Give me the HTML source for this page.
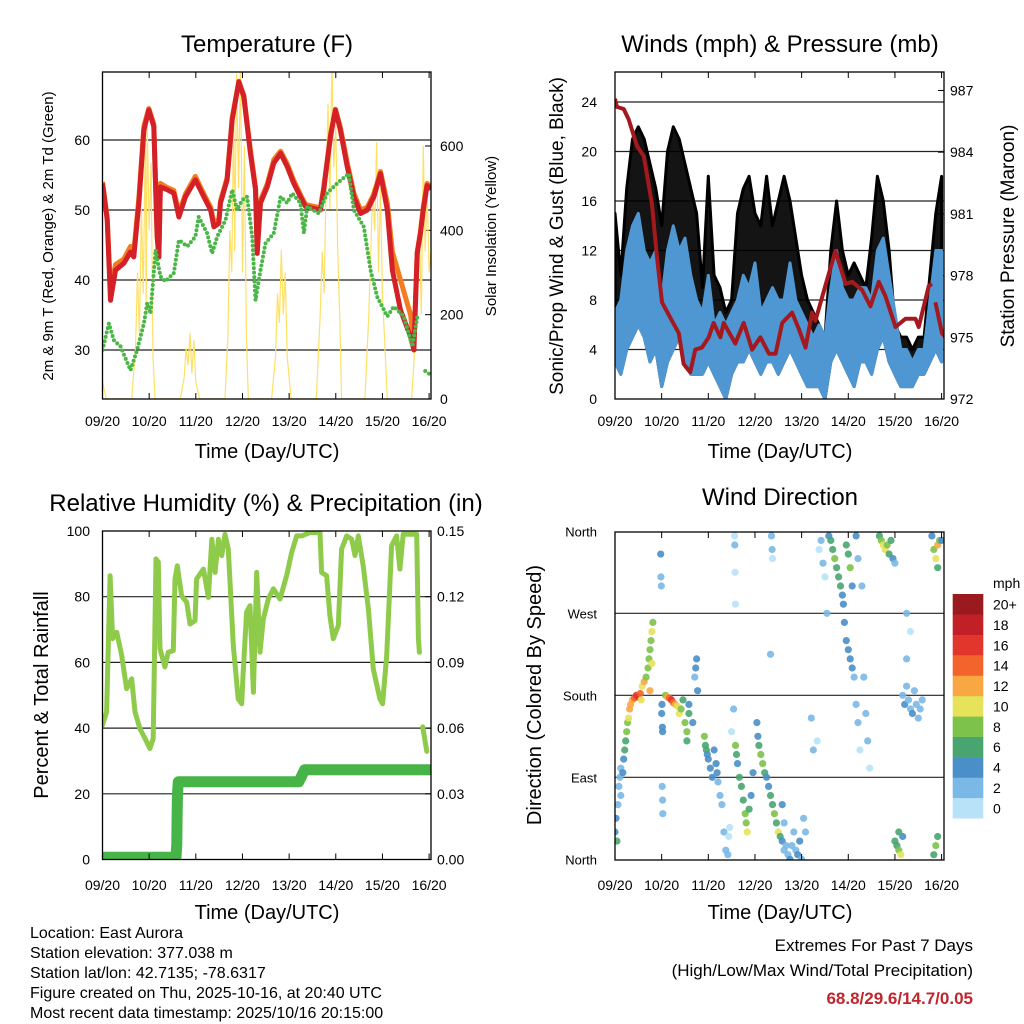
<!DOCTYPE html>
<html><head><meta charset="utf-8"><style>
html,body{margin:0;padding:0;background:#fff;}
svg{display:block;font-family:"Liberation Sans",Arial,sans-serif;}
</style></head><body>
<svg id="chart" width="1024" height="1024" viewBox="0 0 1024 1024" xmlns="http://www.w3.org/2000/svg">
<defs>
<clipPath id="cT"><rect x="102.5" y="72" width="328.5" height="327"/></clipPath>
<clipPath id="cW"><rect x="615" y="72" width="329" height="327"/></clipPath>
<clipPath id="cR"><rect x="102.5" y="531" width="328.5" height="328.5"/></clipPath>
<clipPath id="cD"><rect x="615" y="532" width="329" height="328"/></clipPath>
</defs>
<text x="267" y="52" font-size="24" text-anchor="middle">Temperature (F)</text>
<text x="780" y="52" font-size="24" text-anchor="middle">Winds (mph) &amp; Pressure (mb)</text>
<text x="266" y="511" font-size="24" text-anchor="middle">Relative Humidity (%) &amp; Precipitation (in)</text>
<text x="780" y="505" font-size="24" text-anchor="middle">Wind Direction</text>
<text x="267" y="458" font-size="20" text-anchor="middle">Time (Day/UTC)</text>
<text x="780" y="458" font-size="20" text-anchor="middle">Time (Day/UTC)</text>
<text x="267" y="919" font-size="20" text-anchor="middle">Time (Day/UTC)</text>
<text x="780" y="919" font-size="20" text-anchor="middle">Time (Day/UTC)</text>
<text transform="translate(53,236) rotate(-90)" font-size="15" text-anchor="middle">2m &amp; 9m T (Red, Orange) &amp; 2m Td (Green)</text>
<text transform="translate(496,236) rotate(-90)" font-size="15" text-anchor="middle">Solar Insolation (Yellow)</text>
<text transform="translate(563,236) rotate(-90)" font-size="19" text-anchor="middle">Sonic/Prop Wind &amp; Gust (Blue, Black)</text>
<text transform="translate(1014,236) rotate(-90)" font-size="19" text-anchor="middle">Station Pressure (Maroon)</text>
<text transform="translate(48,695) rotate(-90)" font-size="20" text-anchor="middle">Percent &amp; Total Rainfall</text>
<text transform="translate(541,695) rotate(-90)" font-size="20" text-anchor="middle">Direction (Colored By Speed)</text>
<g font-size="16">
<text x="30" y="938">Location: East Aurora</text>
<text x="30" y="958">Station elevation: 377.038 m</text>
<text x="30" y="978">Station lat/lon: 42.7135; -78.6317</text>
<text x="30" y="998">Figure created on Thu, 2025-10-16, at 20:40 UTC</text>
<text x="30" y="1018">Most recent data timestamp: 2025/10/16 20:15:00</text>
</g>
<g font-size="17" text-anchor="end">
<text x="973" y="951">Extremes For Past 7 Days</text>
<text x="973" y="976">(High/Low/Max Wind/Total Precipitation)</text>
<text x="973" y="1004" fill="#c0262d" font-weight="bold">68.8/29.6/14.7/0.05</text>
</g>
</svg>
<script>
// ---- shared ----
const dayTicks=[0,24,48,72,96,120,144,168];
const dayLabels=['09/20','10/20','11/20','12/20','13/20','14/20','15/20','16/20'];
// ---- temperature ----
const tempT=[0,2.4,4.1,6.7,11,14.4,16.1,18.7,21.3,23.8,26.4,28.1,29,29.8,33.3,36.7,39.3,42.7,47.8,52.1,55.6,57.3,59.8,60.7,64.1,66.7,70.1,72.7,76.1,78.7,79.6,81.3,84.7,88.1,91.6,95,98.4,101.8,104.4,112.1,113.8,117.3,119.8,122.4,125.9,129.3,132.7,136.2,139.6,143,146.5,149.1,153.3,158.5,160.2,161.9,163.6,165,167,169];
const tempRed=[53.8,48.6,37.1,41.4,42.4,44,43.3,51,61.4,64.3,61.9,46.2,43.3,53.3,52.9,52.4,49,51.9,54.3,51.9,50,47.6,48.1,51,54.3,62.9,68.3,66.2,58.1,52.9,43.8,51,53.3,56.7,58.1,56.2,53.8,51.9,50.5,50,52.9,60.5,64.3,61.4,56.2,51.9,49.5,50,51.9,55.2,50,41.4,35.7,31.9,30,43.8,46.7,50,53.5,53];
const tempOrange=[54,49,38.5,42.2,43,44.8,44,51.8,62,64.5,62.3,47,44.5,53.8,53.2,52.8,49.6,52.3,54.8,52.3,50.4,48.3,48.6,51.3,54.6,63.2,68.4,66.4,58.6,53.3,45,51.4,53.7,57.2,58.4,56.6,54.2,52.2,50.8,50.3,53.2,60.8,64.4,61.8,56.8,52.4,50,50.4,52.3,55.5,51,44,40,35,31,44,47,50.5,53.8,53.2];
const dewT=[0,3.3,5.8,9.3,14.4,17.8,21.3,23,24.7,27.3,29.8,32.4,36.7,39.3,43.6,47.8,49.5,53.8,56.4,59,63.3,66.7,69.2,71.8,74.4,77,78.7,81.3,83.8,88.1,91.6,95,97.6,101.8,103.6,105.3,111.3,115.5,120.7,126.7,129.3,134.4,137.9,141.3,146.5,149.9,155,159.4,162,163,166,168.5];
const dewVal=[30,33.8,31.4,30.5,27.1,30,33.8,36.7,35.2,44.3,40.5,39.8,41,45.7,44.8,46.2,49,46.7,43.8,46.2,48.6,52.9,50,51.4,51.9,46.2,37.1,41.4,45.2,46.7,51.9,51,52.4,51,46.7,50.5,49.5,52.4,53.8,55.2,50,47.6,41.4,37.6,34.8,36.2,34.8,30.5,34.8,null,27,26.5];
const solarT=[0,1,2,15,17,18,19,20,21,22,22.5,23,24,25,26,27,40,42,43,44,45,46,47,48,50,63,64.5,65.5,66.5,67.5,68,69,70,71,72,73,74,75,87,89,90,91,92,93,94,95,97,110,112,113,114,115,116,117,118,119,120,121,122,123,135,137,138,139,140,141,142,143,144,145,146.5,159,161,162,163,164,165,166,167,168,170];
const solarVal=[40,20,0,0,120,300,150,450,250,620,200,655,400,560,100,0,0,50,120,80,157,60,140,40,0,0,150,400,300,700,350,770,500,800,300,600,150,0,0,100,250,180,353,200,300,100,0,0,200,350,250,500,700,450,800,550,650,350,200,0,0,200,350,500,400,609,300,500,250,150,0,0,150,300,420,200,600,350,500,300,400];
const tempTicks=[30,40,50,60];
const solarTicks=[0,200,400,600];
// ---- winds ----
const windT=[0,3,6,9,12,15,18,21,24,27,30,33,36,39,42,45,48,51,54,57,60,63,66,69,72,75,78,81,84,87,90,93,96,99,102,105,108,111,114,117,120,123,126,129,132,135,138,141,144,147,150,153,156,159,162,165,168];
const windLo=[3,2,4,5,6,5,3,4,1,3,4,5,3,2,2,2,3,2,1,0,2,3,3,4,3,2,3,3,2,3,4,3,2,1,1,1,0,3,4,3,2,1,3,3,2,4,5,3,2,1,1,1,2,2,3,4,3];
const windHi=[7,8,12,14,15,12,11,12,8,12,14,12,13,10,8,7,10,6,7,6,7,8,10,9,11,7,8,9,8,8,11,8,7,6,5,6,5,9,12,9,8,8,9,9,8,12,13,10,7,4,4,3,4,4,8,12,12];
const gustHi=[15,10,17,21,22,21,19,17,14,20,22,21,19,17,15,9,18,10,9,7,8,15,17,18,15,14,18,14,16,18,16,13,10,8,7,6,5,12,16,12,10,11,10,9,13,18,16,12,6,5,5,4,5,5,10,15,18];
const presT=[0,1,4.5,7,11.3,14.8,19,21.6,24.2,29.3,32.8,35.3,38.7,41.3,44.7,48.2,50.7,54.2,55.9,61.9,66.2,70.5,74.8,79.2,82.6,86,91.1,94.6,98,101.4,103.1,108.2,113.4,118.6,122,127.1,131.4,135.7,139.1,144.3,149.4,154.6,156.2,161.4,163,164,164.8,168.2,170];
const presVal=[986.6,986.2,986.1,985.6,984.3,983.8,981.5,978.9,976.7,975.8,975.2,973.7,973.3,974.4,974.5,975,975.7,975,975.7,974.7,975.7,974.4,975,974.2,974.2,975.7,976.2,975.4,974.5,976.2,975.8,977.5,979.2,977.6,977.7,977.3,976.5,977.7,977,975.5,975.9,975.9,975.5,977.5,977.6,null,976.7,975.2,975];
const windTicks=[0,4,8,12,16,20,24];
const presTicks=[972,975,978,981,984,987];
// ---- humidity ----
const rhT=[0,2.1,3.9,5.2,7.3,9.9,12.4,15,16.7,19.3,21.9,24.4,26.1,27.5,28.7,29.6,32.1,33.8,36.4,37.3,38.5,40.7,43.3,45,47.6,48.4,51.9,54.5,56.2,57.9,59.6,61.3,63,64.7,67.3,69.8,71.6,72.4,74.1,75.9,77.6,79.3,81,82.7,85.3,87.9,91.3,94.7,97.3,99.9,102.5,106.7,111.9,112.7,115.3,117,118.7,121.3,123,125.6,128.2,129.9,131.6,134.1,136.8,139.3,142.7,144.1,146.2,148.7,151.3,153,154.7,161.6,162.5,163,164,164.7,166.8];
const rhVal=[40.9,44.9,86.4,67.2,69.2,62.1,52,55,44.9,39.8,36.8,33.8,36.8,91.5,90.5,64.1,58.6,63.1,63.6,85.4,89.4,80.3,78.3,71.7,72.7,85.4,88.4,79.8,97.5,87.4,97.5,92.5,99,94.5,65.1,48.9,47.4,57,75.3,77.3,50.9,87.4,63.1,73.2,79.3,82.4,79.3,86.4,93.5,98.5,98.5,99.5,99.5,87.4,86.4,74.2,67.2,71.2,94.5,98.5,97.5,92.5,98.5,89.4,76.2,58,48.9,47.4,62.1,95.5,98.5,88.4,99,99,67.2,63.1,null,40.4,32.9];
const precT=[0,37.8,38.2,38.4,38.6,38.8,39,101,104,168];
const precVal=[0.001,0.001,0.007,0.02,0.03,0.033,0.0355,0.0355,0.041,0.041];
const rhTicks=[0,20,40,60,80,100];
const precTicks=['0.00','0.03','0.06','0.09','0.12','0.15'];
// ---- wind direction ----
const dirT=[0,0.5,1,1.5,2,2.5,3,3,4,4.5,5,5.5,6,6.5,7,7.5,8,9,10,11,12,13,13.5,14,15,16,17,17.5,18,18.5,19,19.5,19,18,23.5,23.6,23.8,24,24.2,24.4,24.5,24.3,24.5,24.6,26,27,28,29,30,31,32,33,34,35,36,37,38,38,37,40,41,42,41.5,42.5,46,46.5,47,47.5,48,49,50,51,52,52.5,53,54,55,56,57,58,58.5,59,60,61,62,62.5,63,64,65,66,67,67.5,68,69,70,71,73,73.5,74,75,76,77,78,79,80,81,82,83,84,85,86,87,88,86,87,89,90,91,92,93,94,95,96,97,98,61.5,61.6,61.8,62,80.5,80.8,81,80,101,102,104,105,106,107,108,109,110,111,112,113,114,115,116,117,117.5,118,119,120,121,122,123,124,125,126,119,120,121,122,124,125,127,128,129,130,131,136,137,138,139,140,141,142,143,144,148,149,150,151,152,153,154,155,156,157,158,150,152,150,144,145,146,147,148,146,163,164,165,166,167,166,168,164,165,166];
const dirDeg=[30,45,20,60,80,90,100,70,95,110,120,130,140,150,155,165,170,175,177,180,178,182,175,190,195,200,210,220,230,240,250,260,215,185,335,310,300,160,170,145,140,80,65,50,180,178,177,175,172,170,168,160,165,175,150,140,160,170,130,150,200,220,210,185,135,125,120,115,110,100,90,120,105,95,85,70,60,30,10,5,25,35,140,165,125,115,105,90,80,65,50,40,30,55,70,95,150,135,125,115,105,95,90,80,70,60,50,40,30,25,20,10,15,60,40,5,0,15,30,10,5,20,0,45,30,355,345,315,280,355,340,330,225,155,120,130,340,350,325,310,270,355,350,340,330,320,310,300,290,280,260,240,230,220,210,200,170,150,120,345,335,320,300,355,330,300,200,160,130,100,355,350,345,340,345,335,350,330,325,180,170,190,175,165,160,185,170,155,165,175,220,250,270,20,15,10,5,25,30,355,340,330,345,350,320,350,5,15,25];
const dirSpd=[3,4,6,2,2,1,2,2,3,4,5,5,7,8,10,11,11,12,14,15,16,14,9,10,11,8,8,7,8,7,9,7,10,12,4,2,2,3,4,3,4,2,2,2,7,12,14,15,13,11,10,9,8,6,8,7,5,4,6,3,2,3,4,4,8,6,5,3,4,4,3,4,4,3,2,2,2,1,2,1,0,0,0,1,8,6,4,5,6,5,8,8,10,6,4,3,3,4,6,8,7,6,4,4,5,6,7,6,9,6,3,2,2,3,2,2,3,2,1,2,4,3,2,2,1,0,1,0,0,1,2,0,2,2,1,0,0,1,1,0,1,3,5,6,8,6,6,5,4,4,3,4,4,4,3,2,2,2,0,6,5,7,3,3,2,1,2,2,1,0,6,8,10,9,7,6,5,4,2,2,3,2,2,2,3,2,2,2,2,2,1,0,1,5,6,8,10,4,6,4,8,10,12,8,6,3,5,8,6];
const dirTicks=[0,90,180,270,360];
const dirLabels=['North','East','South','West','North'];
const spdColors=['#b8e2f8','#7ab8e5','#4a8fc8','#49a56f','#7dc24a','#e6e25a','#f8a743','#f2642b','#e2352b','#c31f27','#9a1a1e'];
const spdLabels=['0','2','4','6','8','10','12','14','16','18','20+'];

const NS='http://www.w3.org/2000/svg';
const svg=document.getElementById('chart');
function mk(tag,attrs,name,parent){
  const e=document.createElementNS(NS,tag);
  for(const k in attrs) e.setAttribute(k,attrs[k]);
  
  
  (parent||svg).appendChild(e);
  return e;
}
function txt(x,y,s,size,anchor,name){
  const e=mk('text',{x:x,y:y,'font-size':size,'text-anchor':anchor},name);
  e.textContent=s; return e;
}
function pathFrom(ts,vs,xf,yf){
  let d='',pen=false;
  for(let i=0;i<ts.length;i++){
    if(vs[i]==null){pen=false;continue;}
    d+=(pen?'L':'M')+xf(ts[i]).toFixed(1)+','+yf(vs[i]).toFixed(1);
    pen=true;
  }
  return d;
}
function bandPath(ts,lo,hi,xf,yf){
  let d='';
  for(let i=0;i<ts.length;i++) d+=(i?'L':'M')+xf(ts[i]).toFixed(1)+','+yf(hi[i]).toFixed(1);
  for(let i=ts.length-1;i>=0;i--) d+='L'+xf(ts[i]).toFixed(1)+','+yf(lo[i]).toFixed(1);
  return d+'Z';
}
const xL=t=>102.5+t*1.944;
const xR=t=>615+t*1.944;
function xAxis(xf,yb,ytop,labY,pref){
  dayTicks.forEach((t,i)=>{
    mk('line',{x1:xf(t),x2:xf(t),y1:yb,y2:yb-6,stroke:'#000','stroke-width':1},pref+'-x-tick');
    mk('line',{x1:xf(t),x2:xf(t),y1:ytop,y2:ytop+6,stroke:'#000','stroke-width':1},pref+'-x-tick-top');
    txt(xf(t),labY,dayLabels[i],14,'middle',pref+'-x-label');
  });
}
function grid(x0,x1,y,pref){
  mk('line',{x1:x0,x2:x1,y1:y,y2:y,stroke:'#222','stroke-width':1.2},pref+'-gridline');
}
function frame(x,y,w,h,pref){
  mk('rect',{x:x,y:y,width:w,height:h,fill:'none',stroke:'#000','stroke-width':1.3},pref+'-frame');
}

// ===== Temperature panel =====
const yT=v=>350-(v-30)*7;
const yS=v=>399-v*0.4217;
tempTicks.forEach(v=>{grid(102.5,431,yT(v),'temp');txt(90,yT(v)+5,String(v),14,'end','temp-y-label');});
solarTicks.forEach(v=>{mk('line',{x1:431,x2:425,y1:yS(v),y2:yS(v),stroke:'#000'},'solar-tick');txt(440,yS(v)+5,String(v),14,'start','solar-y-label');});
const gT=mk('g',{'clip-path':'url(#cT)'},'temp-series');
mk('path',{d:pathFrom(solarT,solarVal,xL,yS),fill:'none',stroke:'#ffe066','stroke-width':1.2},'solar-line',gT);
mk('path',{d:pathFrom(tempT,tempOrange,xL,yT),fill:'none',stroke:'#f47c20','stroke-width':5,'stroke-linejoin':'round'},'temp-9m-line',gT);
mk('path',{d:pathFrom(tempT,tempRed,xL,yT),fill:'none',stroke:'#d42027','stroke-width':5,'stroke-linejoin':'round'},'temp-2m-line',gT);
mk('path',{d:pathFrom(dewT,dewVal,xL,yT),fill:'none',stroke:'#4ab648','stroke-width':4,'stroke-linecap':'round','stroke-dasharray':'0 4.5'},'dewpoint-line',gT);
frame(102.5,72,328.5,327,'temp');
xAxis(xL,399,72,426,'temp');

// ===== Winds panel =====
const yW=v=>399-v*12.375;
const yP=v=>399-(v-972)*20.57;
windTicks.forEach(v=>{if(v>0)grid(615,944,yW(v),'wind');txt(597,yW(v)+5,String(v),14,'end','wind-y-label');});
presTicks.forEach(v=>{mk('line',{x1:944,x2:938,y1:yP(v),y2:yP(v),stroke:'#000'},'pressure-tick');txt(950,yP(v)+5,String(v),14,'start','pressure-y-label');});
const gW=mk('g',{'clip-path':'url(#cW)'},'wind-series');
mk('path',{d:bandPath(windT,windLo,gustHi,xR,yW),fill:'#000','fill-opacity':0.92,stroke:'#000','stroke-width':3,'stroke-linejoin':'round'},'gust-band',gW);
mk('path',{d:bandPath(windT,windLo,windHi,xR,yW),fill:'#4f97d2',stroke:'#4f97d2','stroke-width':3,'stroke-linejoin':'round'},'wind-band',gW);
mk('path',{d:pathFrom(presT,presVal,xR,yP),fill:'none',stroke:'#a3191e','stroke-width':4,'stroke-linejoin':'round'},'pressure-line',gW);
frame(615,72,329,327,'wind');
xAxis(xR,399,72,426,'wind');

// ===== Humidity panel =====
const yRH=v=>859.5-v*3.285;
const yPr=v=>859.5-v/0.03*65.7;
rhTicks.forEach((v,i)=>{if(v>0&&v<100)grid(102.5,431,yRH(v),'rh');txt(90,yRH(v)+5,String(v),14,'end','rh-y-label');
  mk('line',{x1:431,x2:425,y1:yPr(i*0.03),y2:yPr(i*0.03),stroke:'#000'},'precip-tick');
  txt(437,yPr(i*0.03)+5,precTicks[i],14,'start','precip-y-label');});
const gR=mk('g',{'clip-path':'url(#cR)'},'rh-series');
mk('path',{d:pathFrom(rhT,rhVal,xL,yRH),fill:'none',stroke:'#8fcb4b','stroke-width':5,'stroke-linejoin':'round','stroke-linecap':'round'},'rh-line',gR);
mk('path',{d:pathFrom(precT,precVal,xL,yPr),fill:'none',stroke:'#47b447','stroke-width':11,'stroke-linejoin':'round','stroke-linecap':'round'},'precip-line',gR);
frame(102.5,531,328.5,328.5,'rh');
xAxis(xL,859.5,531,890,'rh');

// ===== Direction panel =====
const yD=d=>859.3-d*0.9111;
dirTicks.forEach((d,i)=>{if(d>0&&d<360)grid(615,944,yD(d),'dir');txt(597,yD(d)+5,dirLabels[i],13,'end','dir-y-label');});
const gD=mk('g',{'clip-path':'url(#cD)'},'dir-series');
for(let i=0;i<dirT.length;i++){
  const ci=Math.min(10,Math.round(dirSpd[i]/2));
  const c=mk('circle',{cx:xR(dirT[i]).toFixed(1),cy:yD(dirDeg[i]).toFixed(1),r:3.6,fill:spdColors[ci],'fill-opacity':0.9},'dir-point',gD);
}
frame(615,532,329,328,'dir');
xAxis(xR,860,532,890,'dir');

// colorbar
txt(993,588,'mph',14,'start','colorbar-title');
for(let i=0;i<11;i++){
  const y=818.3-(i+1)*20.39;
  mk('rect',{x:952.7,y:y.toFixed(1),width:30.6,height:20.6,fill:spdColors[i]},'colorbar-box');
  txt(993,y+15.5,spdLabels[i],14,'start','colorbar-label');
}
</script>
</body></html>
